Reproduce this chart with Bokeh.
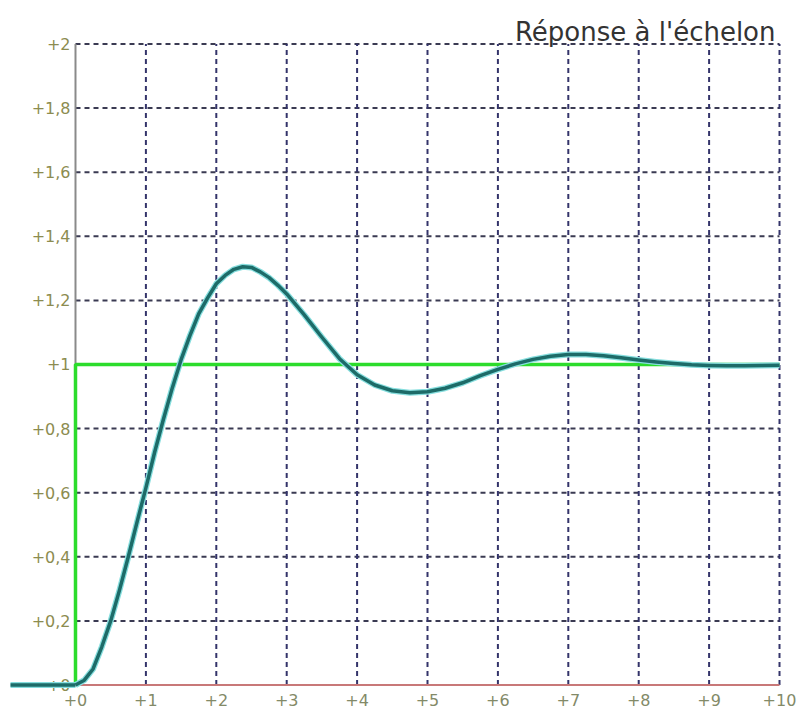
from bokeh.plotting import figure
from bokeh.core.properties import value
from bokeh.embed import file_html
from bokeh.resources import INLINE

# ---- data ----
t = [0.0, 0.125, 0.25, 0.375, 0.5, 0.625, 0.75, 0.875, 1.0, 1.125, 1.25, 1.375,
     1.5, 1.625, 1.75, 1.875, 2.0, 2.125, 2.25, 2.375, 2.5, 2.625, 2.75, 2.875,
     3.0, 3.25, 3.5, 3.75, 4.0, 4.25, 4.5, 4.75, 5.0, 5.25, 5.5, 5.75, 6.0, 6.25,
     6.5, 6.75, 7.0, 7.25, 7.5, 7.75, 8.0, 8.25, 8.5, 8.75, 9.0, 9.25, 9.5,
     9.75, 10.0]
response = [0.0, 0.015, 0.05, 0.12, 0.20, 0.296, 0.40, 0.509, 0.615, 0.727, 0.83,
            0.927, 1.015, 1.09, 1.158, 1.207, 1.252, 1.278, 1.297, 1.305, 1.303,
            1.289, 1.271, 1.247, 1.22, 1.155, 1.085, 1.018, 0.968, 0.936, 0.918,
            0.912, 0.915, 0.926, 0.943, 0.965, 0.985, 1.002, 1.016, 1.026, 1.031,
            1.031, 1.027, 1.021, 1.014, 1.008, 1.003, 0.999, 0.997, 0.996, 0.996,
            0.997, 0.998]
t_before = [-0.923, 0.0]
resp_before = [0.0, 0.0]

step_x = [0.0, 0.0, 10.0]
step_y = [0.0, 1.0, 1.0]

x_ticks = [0, 1, 2, 3, 4, 5, 6, 7, 8, 9, 10]
x_labels = ["+0", "+1", "+2", "+3", "+4", "+5", "+6", "+7", "+8", "+9", "+10"]
y_ticks = [2.0, 1.8, 1.6, 1.4, 1.2, 1.0, 0.8, 0.6, 0.4, 0.2, 0.0]
y_labels = ["+2", "+1,8", "+1,6", "+1,4", "+1,2", "+1", "+0,8", "+0,6", "+0,4", "+0,2", "+0"]

title_text = "Réponse à l'échelon"

X_MIN, X_MAX = 0.0, 10.0
Y_MIN, Y_MAX = 0.0, 2.0

# ---- figure ----
p = figure(width=799, height=713,
           x_range=(-1.0653, 10.284), y_range=(-0.0889, 2.1357),
           output_backend="svg", toolbar_location=None,
           x_axis_location=None, y_axis_location=None, min_border=0)
p.outline_line_color = None
p.grid.visible = False
p.background_fill_color = "white"
p.border_fill_color = "white"

font = value("DejaVu Sans")

# grid lines (dashed)
hx = [y for y in y_ticks if y > 0]
p.segment(x0=[X_MIN] * len(hx), x1=[X_MAX] * len(hx), y0=hx, y1=hx,
          line_color="#3a3a52", line_width=2, line_dash="5 4")
vx = [x for x in x_ticks if x > 0]
p.segment(x0=vx, x1=vx, y0=[Y_MIN] * len(vx), y1=[Y_MAX] * len(vx),
          line_color="#34346a", line_width=2, line_dash="5 4")

# tick labels
p.text(x=[0] * len(y_ticks), y=y_ticks, text=y_labels, x_offset=-5,
       text_align="right", text_baseline="middle", text_font=font,
       text_font_size="16px", text_color="#8c8c50")
p.text(x=x_ticks, y=[0] * len(x_ticks), text=x_labels, y_offset=14.5,
       text_align="center", text_baseline="middle", text_font=font,
       text_font_size="16px", text_color="#838a68")

# axes lines
p.line(x=[X_MIN, X_MAX], y=[0, 0], line_color="#c87878", line_width=2)
p.line(x=[0, 0], y=[1.0, Y_MAX], line_color="#8a8a8a", line_width=2)

# step input
p.line(x=step_x, y=step_y, line_color="#2cdc2c", line_width=3.5)

# response
p.line(x=t_before, y=resp_before, line_color="#86dede", line_width=6)
p.line(x=t, y=response, line_color="#86dede", line_width=6, line_join="round")
p.line(x=t_before, y=resp_before, line_color="#1d6b68", line_width=3.5)
p.line(x=t, y=response, line_color="#1d6b68", line_width=3.5, line_join="round")

# title
p.text(x=[X_MAX], y=[2.0359], text=[title_text], x_offset=-4,
       text_align="right", text_baseline="alphabetic", text_font=font,
       text_font_size="26px", text_color="#333333")

open("out.html", "w").write(file_html(p, INLINE))
